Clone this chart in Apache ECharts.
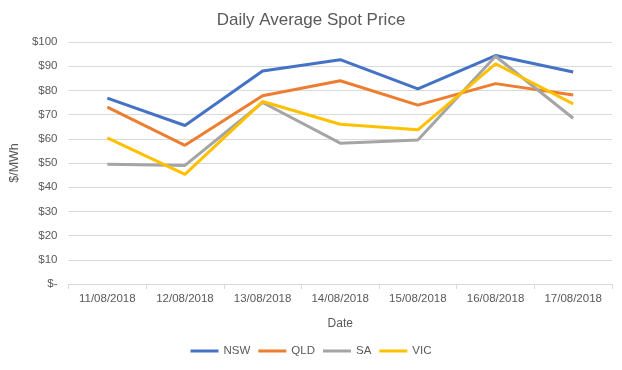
<!DOCTYPE html>
<html><head><meta charset="utf-8">
<script src="https://cdn.jsdelivr.net/npm/echarts@6/dist/echarts.min.js"></script>
<style>html,body{margin:0;padding:0;background:#fff}#c{width:622px;height:370px}</style>
</head><body><div id="c"></div>
<script>
const categories = ['11/08/2018','12/08/2018','13/08/2018','14/08/2018','15/08/2018','16/08/2018','17/08/2018'];
const NSW = [76.8, 65.5, 88.0, 92.7, 80.6, 94.4, 87.6];
const QLD = [73.1, 57.3, 77.8, 84.0, 73.9, 82.8, 78.1];
const SA  = [49.5, 49.0, 75.0, 58.2, 59.5, 94.1, 68.5];
const VIC = [60.4, 45.3, 75.4, 66.0, 63.7, 91.0, 74.4];
const seriesNames = ['NSW','QLD','SA','VIC'];
const colors = ['#4472C4','#ED7D31','#A5A5A5','#FFC000'];
const dataSets = [NSW, QLD, SA, VIC];
const font = 'Liberation Sans, Arial, sans-serif';
const chart = echarts.init(document.getElementById('c'));
chart.setOption({
  animation:false,
  title:{text:'Daily Average Spot Price',left:'center',top:7,textStyle:{fontFamily:font,fontSize:17,fontWeight:'normal',color:'#595959'}},
  grid:{left:68,right:10,top:42,bottom:86},
  legend:{bottom:8,left:'center',itemWidth:28,itemHeight:3,itemGap:8,icon:'rect',
    textStyle:{fontFamily:font,fontSize:11.5,color:'#595959'},data:seriesNames},
  xAxis:{type:'category',data:categories,boundaryGap:true,
    name:'Date',nameLocation:'middle',nameGap:34,nameTextStyle:{fontFamily:font,fontSize:12,color:'#595959'},
    axisLine:{lineStyle:{color:'#D9D9D9'}},axisTick:{show:true,length:5,lineStyle:{color:'#D9D9D9'}},
    axisLabel:{fontFamily:font,fontSize:11.5,color:'#595959',margin:9}},
  yAxis:{type:'value',min:0,max:100,interval:10,
    name:'$/MWh',nameLocation:'middle',nameGap:40,nameRotate:90,nameTextStyle:{fontFamily:font,fontSize:12.5,color:'#595959'},
    axisLine:{show:false},axisTick:{show:false},
    splitLine:{lineStyle:{color:'#D9D9D9'}},
    axisLabel:{fontFamily:font,fontSize:11.5,color:'#595959',margin:11,formatter:v=>v===0?'$-':'$'+v}},
  series:seriesNames.map((n,i)=>({name:n,type:'line',data:dataSets[i],symbol:'none',
    lineStyle:{width:3,color:colors[i]},itemStyle:{color:colors[i]}}))
});
</script></body></html>
